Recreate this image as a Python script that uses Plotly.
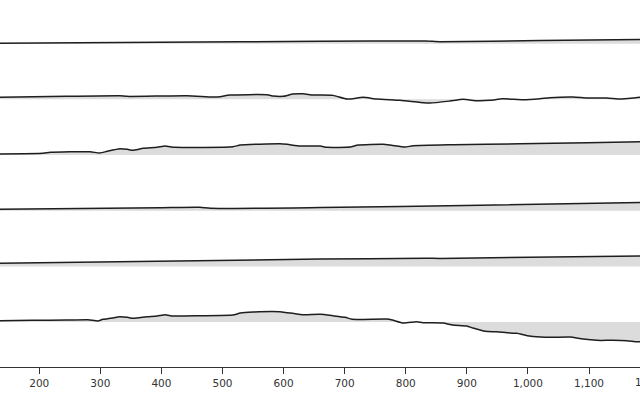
import plotly.graph_objects as go

# ---- data (x in axis units, values = height above each row's reference level) ----
x1 = [130, 398, 660, 832, 856, 1020, 1190]
v1 = [0.4, 1.4, 2.4, 2.7, 2.0, 3.2, 4.2]

x2 = [130, 245, 332, 344, 442, 484, 496, 512, 573, 583, 599, 615, 632, 648, 660, 681,
      704, 730, 753, 791, 823, 840, 872, 894, 917, 938, 959, 992, 1020, 1036, 1074,
      1097, 1129, 1151, 1172, 1190]
v2 = [2.0, 3.0, 3.6, 3.0, 3.6, 2.3, 2.6, 4.3, 4.6, 3.3, 3.0, 5.3, 5.6, 4.3, 4.3, 4.0,
      0.3, 2.0, 0.3, -1.0, -3.0, -3.7, -1.7, 0.0, -1.4, -1.0, 0.6, -0.4, 0.6, 1.6, 2.3,
      1.3, 1.3, 0.3, 1.3, 2.6]

x3 = [130, 206, 218, 283, 299, 311, 332, 344, 353, 370, 393, 406, 422, 517, 529, 594,
      606, 627, 660, 671, 709, 722, 763, 777, 799, 812, 877, 987, 1097, 1190]
v3 = [1.0, 1.7, 2.7, 3.3, 2.0, 3.7, 6.3, 5.7, 4.7, 6.7, 7.7, 9.0, 7.7, 8.3, 10.0, 11.3,
      10.7, 9.0, 9.0, 7.7, 8.0, 10.0, 10.7, 9.7, 8.0, 9.3, 10.3, 11.3, 12.3, 13.3]

x4 = [130, 398, 463, 480, 660, 922, 1190]
v4 = [1.4, 3.0, 3.4, 2.4, 3.2, 5.4, 8.4]

x5 = [130, 660, 832, 856, 1190]
v5 = [3.0, 7.3, 8.1, 8.0, 10.3]

x6 = [130, 190, 245, 280, 296, 304, 316, 332, 344, 354, 376, 393, 406, 419, 463, 517,
      529, 550, 594, 606, 615, 632, 660, 681, 701, 712, 769, 778, 796, 818, 828, 861,
      877, 900, 910, 930, 949, 966, 982, 999, 1020, 1041, 1069, 1090, 1113, 1139, 1162,
      1179, 1190]
v6 = [1.3, 1.7, 2.0, 2.3, 1.0, 2.7, 3.7, 5.3, 4.7, 3.7, 5.3, 6.0, 7.3, 6.0, 6.3, 7.0,
      9.0, 10.0, 10.3, 9.3, 8.7, 7.3, 7.7, 6.3, 4.7, 2.7, 3.0, 2.0, -1.0, 0.3, -0.7, -1.0,
      -3.0, -4.0, -6.0, -9.3, -9.7, -10.7, -11.3, -13.7, -15.0, -15.3, -15.0, -17.0,
      -18.3, -18.3, -18.7, -19.7, -19.5]

series = [(x1, v1), (x2, v2), (x3, v3), (x4, v4), (x5, v5), (x6, v6)]

tick_vals = [200, 300, 400, 500, 600, 700, 800, 900, 1000, 1100, 1200]
x_range = [135.7, 1183.5]

# ---- layout constants ----
ROW_TOP = 43.7
ROW_STEP = 55.67
PLOT_H = 367
LINE_COLOR = "#1e1e1e"
FILL_COLOR = "#dcdcdc"
AXIS_COLOR = "#333333"
FONT = dict(family="DejaVu Sans", size=10.5, color="#333333")

fig = go.Figure()
for i, (xs, vs) in enumerate(series):
    base = -(ROW_TOP + ROW_STEP * i)
    fig.add_trace(go.Scatter(
        x=[xs[0], xs[-1]], y=[base, base], mode="lines",
        line=dict(width=0, color=FILL_COLOR), hoverinfo="skip", showlegend=False))
    fig.add_trace(go.Scatter(
        x=xs, y=[base + v for v in vs], mode="lines",
        line=dict(width=1.5, color=LINE_COLOR, shape="spline", smoothing=0.5),
        fill="tonexty", fillcolor=FILL_COLOR, showlegend=False))

# partially visible tick label beyond the right edge
last_tick = tick_vals[-1]
fig.add_annotation(
    x=(last_tick - x_range[0]) / (x_range[1] - x_range[0]), y=0,
    xref="paper", yref="paper", xanchor="center", yanchor="top",
    yshift=-7, text=f"{last_tick:,}", showarrow=False, font=FONT)

fig.update_layout(
    width=640, height=400,
    margin=dict(l=0, r=0, t=0, b=400 - PLOT_H),
    paper_bgcolor="white", plot_bgcolor="white",
    xaxis=dict(range=x_range, tickvals=tick_vals, tickformat=",",
               showline=True, linecolor=AXIS_COLOR, linewidth=1,
               ticks="outside", ticklen=6, tickcolor=AXIS_COLOR, tickwidth=1,
               showgrid=False, zeroline=False, tickfont=FONT, automargin=False),
    yaxis=dict(range=[-PLOT_H, 0], visible=False, showgrid=False, zeroline=False),
)

fig.write_html("out.html", config={"displayModeBar": False},
               post_script="document.body.style.margin='0';")
